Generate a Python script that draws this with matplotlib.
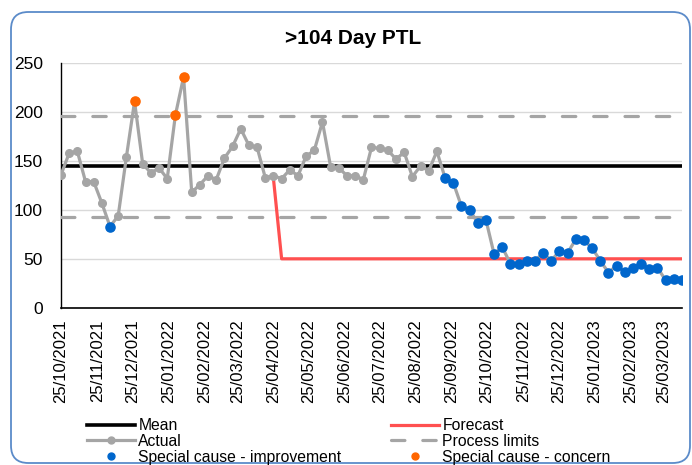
import matplotlib
matplotlib.use("Agg")
import matplotlib.pyplot as plt
import matplotlib.dates as mdates
from matplotlib.lines import Line2D
from matplotlib.patches import FancyBboxPatch
import pandas as pd

plt.rcParams["font.family"] = ["Liberation Sans", "DejaVu Sans"]

# weekly data, first week 25/10/2021
start = "2021-10-25"
actual = [136, 158, 160, 129, 129, 107, 83, 94, 154, 211,
          147, 138, 143, 132, 197, 236, 118, 126, 135, 131,
          153, 165, 183, 166, 164, 133, 135, 132, 141, 135,
          155, 161, 190, 144, 143, 135, 135, 131, 164, 163,
          161, 152, 159, 134, 145, 140, 160, 133, 128, 104,
          100, 87, 90, 55, 62, 45, 45, 48, 48, 56,
          48, 58, 56, 70, 69, 61, 48, 36, 43, 37,
          41, 45, 40, 41, 28, 29, 28]
mean_val = 145
upper_lim = 196
lower_lim = 93
forecast_start = 26       # index where forecast begins
forecast_first = 132
forecast_level = 50
improve_idx = [6] + list(range(47, 77))
concern_idx = [9, 14, 15]
yticks = [0, 50, 100, 150, 200, 250]

dates = pd.date_range(start, periods=len(actual), freq="7D")
forecast = [None] * forecast_start + [forecast_first] + [forecast_level] * (len(actual) - forecast_start - 1)
fc_dates = dates[forecast_start:]
fc_vals = forecast[forecast_start:]
tick_dates = [pd.Timestamp(start) + pd.DateOffset(months=i) for i in range(18)]

GREY = "#A5A5A5"
BLUE = "#0066CC"
ORANGE = "#FF6600"
RED = "#FF5050"

fig = plt.figure(figsize=(6.92, 4.65), dpi=100)

# rounded chart border
frame = FancyBboxPatch((11 / 692, 2 / 465), 679 / 692, 451 / 465,
                       boxstyle="round,pad=0,rounding_size=0.025",
                       transform=fig.transFigure, facecolor="none",
                       edgecolor="#5B8BC9", linewidth=1.3, mutation_aspect=692 / 465)
fig.patches.append(frame)

ax = fig.add_axes([61 / 692, (465 - 307.7) / 465, 621 / 692, 244.4 / 465])

dash = dict(linestyle=(0, (4.2, 5.6)), dash_capstyle="round")

ax.plot([dates[0], dates[-1]], [mean_val, mean_val], color="black", lw=2.6, zorder=3)
ax.plot(fc_dates, fc_vals, color=RED, lw=2.3, zorder=3)
ax.plot([dates[0], dates[-1]], [upper_lim, upper_lim], color=GREY, lw=2.3, zorder=3, **dash)
ax.plot([dates[0], dates[-1]], [lower_lim, lower_lim], color=GREY, lw=2.3, zorder=3, **dash)
ax.plot(dates, actual, color=GREY, lw=2.3, marker="o", markersize=5.5, zorder=4)
ax.plot(dates[improve_idx], [actual[i] for i in improve_idx], "o", color=BLUE,
        markersize=6.6, zorder=5)
ax.plot(dates[concern_idx], [actual[i] for i in concern_idx], "o", color=ORANGE,
        markersize=6.6, zorder=5)

ax.set_xlim(dates[0], dates[-1])
ax.set_ylim(0, 250)
ax.set_yticks(yticks)
ax.set_xticks(tick_dates)
ax.xaxis.set_major_formatter(mdates.DateFormatter("%d/%m/%Y"))
ax.tick_params(axis="x", length=0, pad=8.5, labelsize=12, labelrotation=90)
ax.tick_params(axis="y", length=0, pad=13, labelsize=12.5)
ax.grid(axis="y", color="#D9D9D9", lw=1)
ax.set_axisbelow(True)
for s in ["top", "right"]:
    ax.spines[s].set_visible(False)
ax.spines["left"].set_linewidth(1)
ax.spines["bottom"].set_linewidth(1.2)

fig.text(353 / 692, (465 - 38) / 465, ">104 Day PTL", ha="center", va="center",
         fontsize=15, fontweight="bold")

h1 = [Line2D([], [], color="black", lw=2.6),
      Line2D([], [], color=GREY, lw=2.3, marker="o", markersize=5),
      Line2D([], [], color=BLUE, lw=0, marker="o", markersize=5)]
h2 = [Line2D([], [], color=RED, lw=2.3),
      Line2D([], [], color=GREY, lw=2.3, **dash),
      Line2D([], [], color=ORANGE, lw=0, marker="o", markersize=5)]
common = dict(loc="upper left", frameon=False, fontsize=11.3, handlelength=3.05,
              handletextpad=0.22, labelspacing=0.06, borderpad=0, borderaxespad=0)
leg1 = fig.legend(h1, ["Mean", "Actual", "Special cause - improvement"],
                  bbox_to_anchor=(87 / 692, (465 - 418) / 465), **common)
leg2 = fig.legend(h2, ["Forecast", "Process limits", "Special cause - concern"],
                  bbox_to_anchor=(391 / 692, (465 - 418) / 465), **common)

fig.savefig("out.png", dpi=100)
